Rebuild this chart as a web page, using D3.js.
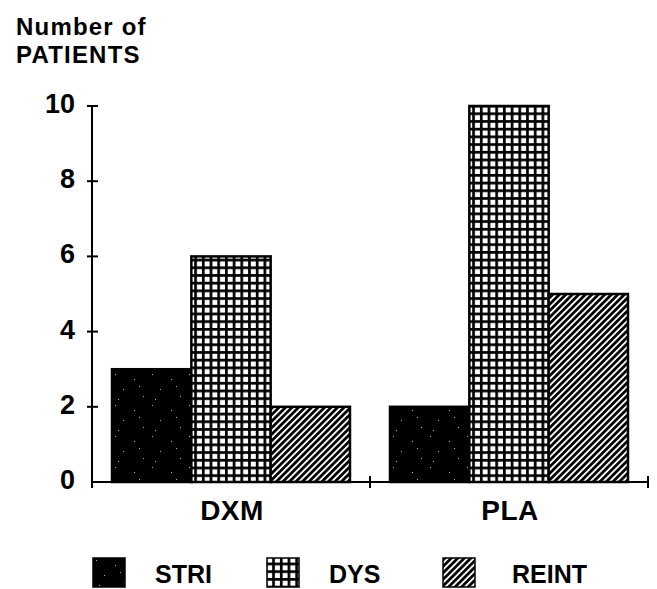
<!DOCTYPE html>
<html>
<head>
<meta charset="utf-8">
<script src="https://cdn.jsdelivr.net/npm/d3@7"></script>
<style>
  html, body { margin: 0; padding: 0; background: #fff; }
  svg { display: block; font-family: 'Liberation Sans', Arial, Helvetica, sans-serif; font-weight: bold; }
</style>
</head>
<body>
<div id="chart"></div>
<script>
const groups = ['DXM', 'PLA']
const seriesNames = ['STRI', 'DYS', 'REINT']
const stri = [3, 2]
const dys = [6, 10]
const reint = [2, 5]
const yTicks = [0, 2, 4, 6, 8, 10]
const titleLines = ['Number of', 'PATIENTS']

const width = 657
const height = 589
const x0 = 92
const x1 = 648
const yBase = 482
const yTop = 106

const table = groups.map((g, i) => ({
  group: g,
  values: [
    { key: 'STRI', value: stri[i] },
    { key: 'DYS', value: dys[i] },
    { key: 'REINT', value: reint[i] },
  ],
}))

const fills = { STRI: 'url(#p-stri)', DYS: 'url(#p-dys)', REINT: 'url(#p-reint)' }

const svg = d3.select('#chart')
  .append('svg')
  .attr('width', width)
  .attr('height', height)
  .attr('viewBox', `0 0 ${width} ${height}`)

// patterns (speckled black, fine grid, diagonal hatch)
const defs = svg.append('defs')
const speck = defs.append('pattern')
  .attr('id', 'p-stri')
  .attr('patternUnits', 'userSpaceOnUse')
  .attr('width', 37).attr('height', 31)
speck.append('rect').attr('width', 37).attr('height', 31).attr('fill', '#000')
;[[3, 2], [22, 7], [11, 17], [31, 24], [6, 27], [27, 14]].forEach(([px, py]) => {
  speck.append('rect').attr('x', px).attr('y', py).attr('width', 1).attr('height', 1).attr('fill', '#bbb')
})

const grid = defs.append('pattern')
  .attr('id', 'p-dys')
  .attr('patternUnits', 'userSpaceOnUse')
  .attr('x', 190).attr('y', yBase)
  .attr('width', 7.7).attr('height', 7.7)
grid.append('rect').attr('width', 7.7).attr('height', 7.7).attr('fill', '#000')
grid.append('rect').attr('x', 2.7).attr('y', 2.7).attr('width', 5).attr('height', 5).attr('fill', '#fff')

const hatch = defs.append('pattern')
  .attr('id', 'p-reint')
  .attr('patternUnits', 'userSpaceOnUse')
  .attr('width', 4.6).attr('height', 10)
  .attr('patternTransform', 'rotate(45)')
hatch.append('rect').attr('width', 4.6).attr('height', 10).attr('fill', '#fff')
hatch.append('rect').attr('width', 2.8).attr('height', 10).attr('fill', '#000')

const y = d3.scaleLinear().domain([0, 10]).range([yBase, yTop])
const xg = d3.scaleBand().domain(groups).range([x0, x1]).paddingInner(0.144).paddingOuter(0.072)
const xs = d3.scaleBand().domain(seriesNames).range([0, xg.bandwidth()])

// bars
svg.append('g')
  .selectAll('g')
  .data(table)
  .join('g')
  .attr('transform', (d) => `translate(${xg(d.group)},0)`)
  .selectAll('rect')
  .data((d) => d.values)
  .join('rect')
  .attr('x', (d) => xs(d.key))
  .attr('y', (d) => y(d.value))
  .attr('width', xs.bandwidth())
  .attr('height', (d) => yBase - y(d.value))
  .attr('fill', (d) => fills[d.key])
  .attr('stroke', '#000')
  .attr('stroke-width', 2.5)

// y axis with crossing ticks
const yAxis = svg.append('g').attr('stroke', '#000').attr('stroke-width', 2)
yAxis.append('line').attr('x1', x0).attr('x2', x0).attr('y1', y(10)).attr('y2', yBase + 6)
yAxis.selectAll('.yt')
  .data(yTicks.filter((t) => t > 0))
  .join('line')
  .attr('class', 'yt')
  .attr('x1', x0 - 5).attr('x2', x0 + 6)
  .attr('y1', (d) => y(d)).attr('y2', (d) => y(d))

svg.append('g')
  .selectAll('text')
  .data(yTicks)
  .join('text')
  .attr('x', 75)
  .attr('y', (d) => y(d) + 7)
  .attr('text-anchor', 'end')
  .attr('font-size', 27)
  .text((d) => d)

// x axis
const xAxis = svg.append('g').attr('stroke', '#000').attr('stroke-width', 2)
xAxis.append('line').attr('x1', x0).attr('x2', x1).attr('y1', yBase).attr('y2', yBase)
xAxis.selectAll('.xt')
  .data([xg.step() + x0, x1])
  .join('line')
  .attr('class', 'xt')
  .attr('x1', (d) => d).attr('x2', (d) => d)
  .attr('y1', yBase - 6).attr('y2', yBase + 6)

svg.append('g')
  .selectAll('text')
  .data(groups)
  .join('text')
  .attr('x', (d) => xg(d) + xg.bandwidth() / 2 + 1)
  .attr('y', 520)
  .attr('text-anchor', 'middle')
  .attr('font-size', 28)
  .attr('letter-spacing', 0.5)
  .text((d) => d)

// axis title, one text per line
svg.append('g')
  .selectAll('text')
  .data(titleLines)
  .join('text')
  .attr('x', 16)
  .attr('y', (d, i) => 35 + i * 28)
  .attr('font-size', 24)
  .attr('letter-spacing', 1.2)
  .text((d) => d)

// legend
const legendX = [93, 267, 443]
const legend = svg.append('g')
  .selectAll('g')
  .data(seriesNames)
  .join('g')
  .attr('transform', (d, i) => `translate(${legendX[i]},558)`)
legend.append('rect')
  .attr('width', 32).attr('height', 29)
  .attr('fill', (d) => fills[d])
  .attr('stroke', '#000').attr('stroke-width', 1.5)
legend.append('text')
  .attr('x', (d, i) => (i === 2 ? 69 : 62))
  .attr('y', 25)
  .attr('font-size', 25)
  .text((d) => d)
</script>
</body>
</html>
